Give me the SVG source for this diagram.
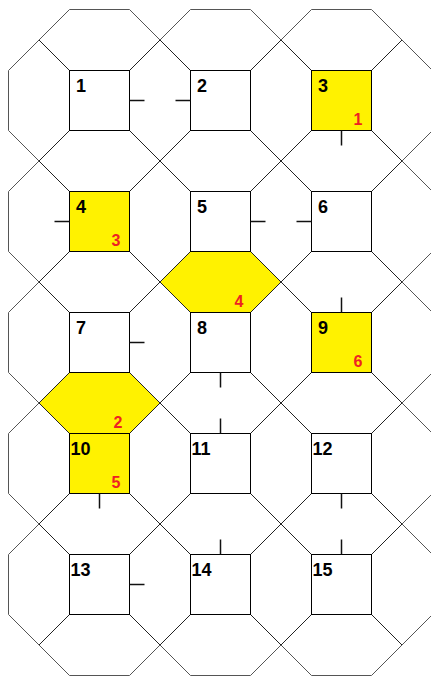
<svg xmlns="http://www.w3.org/2000/svg" width="431" height="679" viewBox="0 0 431 679">
<style>
.bg{fill:#fff}
.outer{fill:none;stroke:#555;stroke-width:1}
.inner{fill:none;stroke:#222;stroke-width:1}
.sq{fill:#fff;stroke:#000;stroke-width:1}
.y{fill:#fff200}
.hex{fill:#fff200;stroke:none}
.tick{stroke:#111;stroke-width:1.5;fill:none}
.lbl{font-family:"Liberation Sans",Arial,sans-serif;font-weight:bold;font-size:18px;fill:#000}
.red{font-family:"Liberation Sans",Arial,sans-serif;font-weight:bold;font-size:16px;fill:#ee2222}
</style>
<rect class="bg" x="0" y="0" width="431" height="679"/>
<g id="hex-5-8"><polygon class="hex" points="190.5,251.5 250.5,251.5 281,282 250.5,312.5 190.5,312.5 160,282"/><text class="red" x="234.5" y="306.5">4</text></g>
<g id="hex-7-10"><polygon class="hex" points="69.5,372.5 129.5,372.5 160,403 129.5,433.5 69.5,433.5 39,403"/><text class="red" x="113.5" y="427.5">2</text></g>
<g id="connectors">
<path class="outer" d="M8.5 70.5 L39 40 L69.5 9.5 L129.5 9.5 L160 40 L190.5 9.5 L250.5 9.5 L281 40 L311.5 9.5 L371.5 9.5 L402 40 L432.5 70.5 L432.5 130.5 L402 161 L432.5 191.5 L432.5 251.5 L402 282 L432.5 312.5 L432.5 372.5 L402 403 L432.5 433.5 L432.5 493.5 L402 524 L432.5 554.5 L432.5 614.5 L402 645 L371.5 675.5 L311.5 675.5 L281 645 L250.5 675.5 L190.5 675.5 L160 645 L129.5 675.5 L69.5 675.5 L39 645 L8.5 614.5 L8.5 554.5 L39 524 L8.5 493.5 L8.5 433.5 L39 403 L8.5 372.5 L8.5 312.5 L39 282 L8.5 251.5 L8.5 191.5 L39 161 L8.5 130.5 Z"/>
<path class="inner" d="M281 40 L402 161 M160 40 L402 282 M39 40 L402 403 M39 161 L402 524 M39 282 L402 645 M39 403 L281 645 M39 524 L160 645 M160 40 L39 161 M281 40 L39 282 M402 40 L39 403 M402 161 L39 524 M402 282 L39 645 M402 403 L160 645 M402 524 L281 645"/>
</g>
<g id="n1"><rect class="sq" x="69.5" y="70.5" width="60" height="60"/><text class="lbl" x="76" y="92">1</text><path class="tick" d="M129.5 100.5 H144.5"/></g>
<g id="n2"><rect class="sq" x="190.5" y="70.5" width="60" height="60"/><text class="lbl" x="197" y="92">2</text><path class="tick" d="M190.5 100.5 H175.5"/></g>
<g id="n3"><rect class="sq y" x="311.5" y="70.5" width="60" height="60"/><text class="lbl" x="318" y="92">3</text><text class="red" x="353.5" y="125">1</text><path class="tick" d="M341.5 130.5 V145.5"/></g>
<g id="n4"><rect class="sq y" x="69.5" y="191.5" width="60" height="60"/><text class="lbl" x="76" y="213">4</text><text class="red" x="111.5" y="246">3</text><path class="tick" d="M69.5 221.5 H54.5"/></g>
<g id="n5"><rect class="sq" x="190.5" y="191.5" width="60" height="60"/><text class="lbl" x="197" y="213">5</text><path class="tick" d="M250.5 221.5 H265.5"/></g>
<g id="n6"><rect class="sq" x="311.5" y="191.5" width="60" height="60"/><text class="lbl" x="318" y="213">6</text><path class="tick" d="M311.5 221.5 H296.5"/></g>
<g id="n7"><rect class="sq" x="69.5" y="312.5" width="60" height="60"/><text class="lbl" x="76" y="334">7</text><path class="tick" d="M129.5 342.5 H144.5"/></g>
<g id="n8"><rect class="sq" x="190.5" y="312.5" width="60" height="60"/><text class="lbl" x="197" y="334">8</text><path class="tick" d="M220.5 372.5 V387.5"/></g>
<g id="n9"><rect class="sq y" x="311.5" y="312.5" width="60" height="60"/><text class="lbl" x="318" y="334">9</text><text class="red" x="353.5" y="367">6</text><path class="tick" d="M341.5 312.5 V297.5"/></g>
<g id="n10"><rect class="sq y" x="69.5" y="433.5" width="60" height="60"/><text class="lbl" x="70.5" y="455">10</text><text class="red" x="111.5" y="488">5</text><path class="tick" d="M99.5 493.5 V508.5"/></g>
<g id="n11"><rect class="sq" x="190.5" y="433.5" width="60" height="60"/><text class="lbl" x="191.5" y="455">11</text><path class="tick" d="M220.5 433.5 V418.5"/></g>
<g id="n12"><rect class="sq" x="311.5" y="433.5" width="60" height="60"/><text class="lbl" x="312.5" y="455">12</text><path class="tick" d="M341.5 493.5 V508.5"/></g>
<g id="n13"><rect class="sq" x="69.5" y="554.5" width="60" height="60"/><text class="lbl" x="70.5" y="576">13</text><path class="tick" d="M129.5 584.5 H144.5"/></g>
<g id="n14"><rect class="sq" x="190.5" y="554.5" width="60" height="60"/><text class="lbl" x="191.5" y="576">14</text><path class="tick" d="M220.5 554.5 V539.5"/></g>
<g id="n15"><rect class="sq" x="311.5" y="554.5" width="60" height="60"/><text class="lbl" x="312.5" y="576">15</text><path class="tick" d="M341.5 554.5 V539.5"/></g>
</svg>
